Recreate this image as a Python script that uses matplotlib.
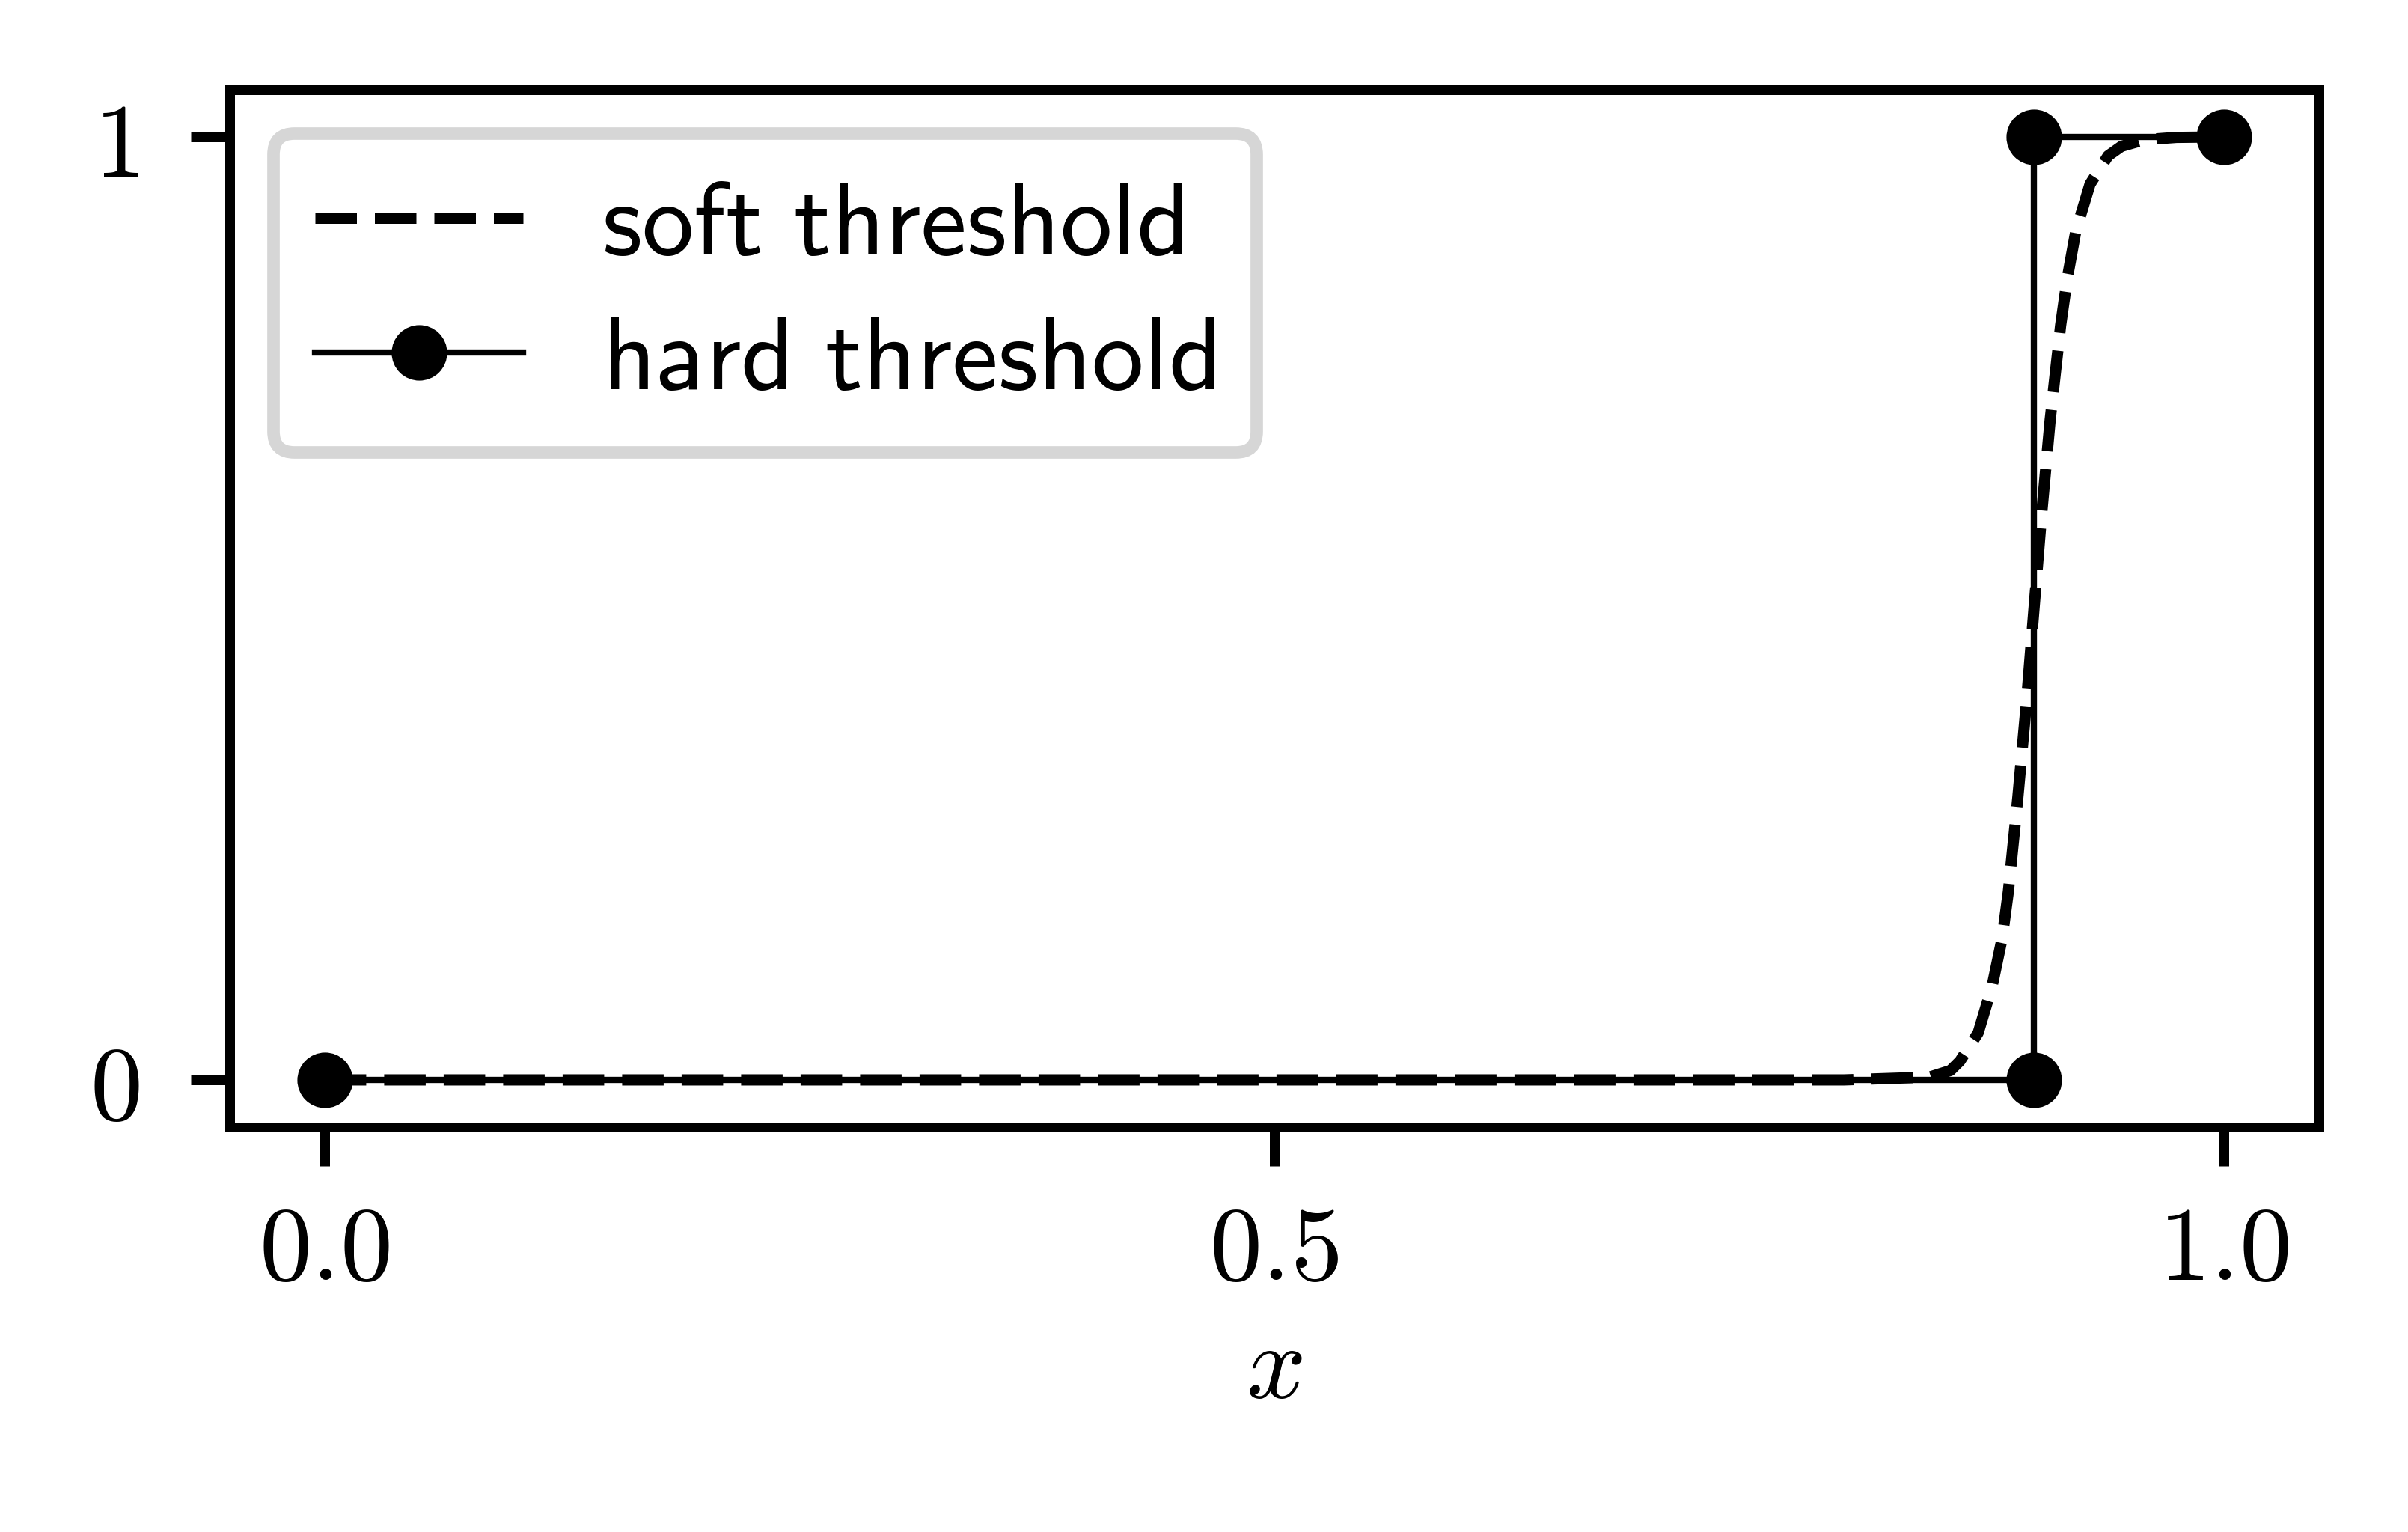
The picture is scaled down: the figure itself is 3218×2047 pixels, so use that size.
import matplotlib
matplotlib.use("Agg")
import matplotlib.pyplot as plt


# Data

hard_x = [0.0, 0.9, 0.9, 1.0]
hard_y = [0.0, 0.0, 1.0, 1.0]

soft_x = [0.0, 0.80, 0.845, 0.856, 0.861, 0.8706, 0.878, 0.8832, 0.8865,
          0.889, 0.8915, 0.896, 0.900, 0.904, 0.9085, 0.914, 0.9175,
          0.922, 0.9295, 0.939, 0.946, 0.958, 0.975, 1.0]
soft_y = [0.0, 0.0, 0.003, 0.01, 0.02, 0.05, 0.10, 0.15, 0.20,
          0.25, 0.30, 0.40, 0.50, 0.60, 0.70, 0.80, 0.85,
          0.90, 0.95, 0.98, 0.99, 0.997, 0.9995, 1.0]

x_ticks = [0.0, 0.5, 1.0]
x_tick_labels = [r"$0.0$", r"$0.5$", r"$1.0$"]
y_ticks = [0, 1]
y_tick_labels = [r"$0$", r"$1$"]

labels = [r"$\mathsf{soft\ threshold}$", r"$\mathsf{hard\ threshold}$"]


plt.rcParams["mathtext.fontset"] = "cm"

DPI = 600
fig = plt.figure(figsize=(3218 / DPI, 2047 / DPI), dpi=DPI)
ax = fig.add_axes([0.0954, 0.2643, 0.8676, 0.6771])

ax.plot(soft_x, soft_y, linestyle="--", color="black", linewidth=1.8,
        label=labels[0])
ax.plot(hard_x, hard_y, linestyle="-", color="black", linewidth=1.0,
        marker="o", markersize=7.9, label=labels[1])

ax.set_xticks(x_ticks, x_tick_labels)
ax.set_yticks(y_ticks, y_tick_labels)
ax.tick_params(axis="both", length=6.2, width=1.56, labelsize=16.8)
ax.tick_params(axis="y", pad=8.3)
ax.tick_params(axis="x", pad=5.5)

for spine in ax.spines.values():
    spine.set_linewidth(1.56)

ax.set_xlabel(r"$x$", fontsize=16.8, labelpad=2.5)

leg = ax.legend(loc="upper left", fontsize=16.7, framealpha=1,
                edgecolor="#d6d6d6", borderaxespad=0.42,
                labelspacing=0.32, handletextpad=0.75)
leg.get_frame().set_linewidth(2.0)

fig.savefig("out.png", dpi=DPI)
